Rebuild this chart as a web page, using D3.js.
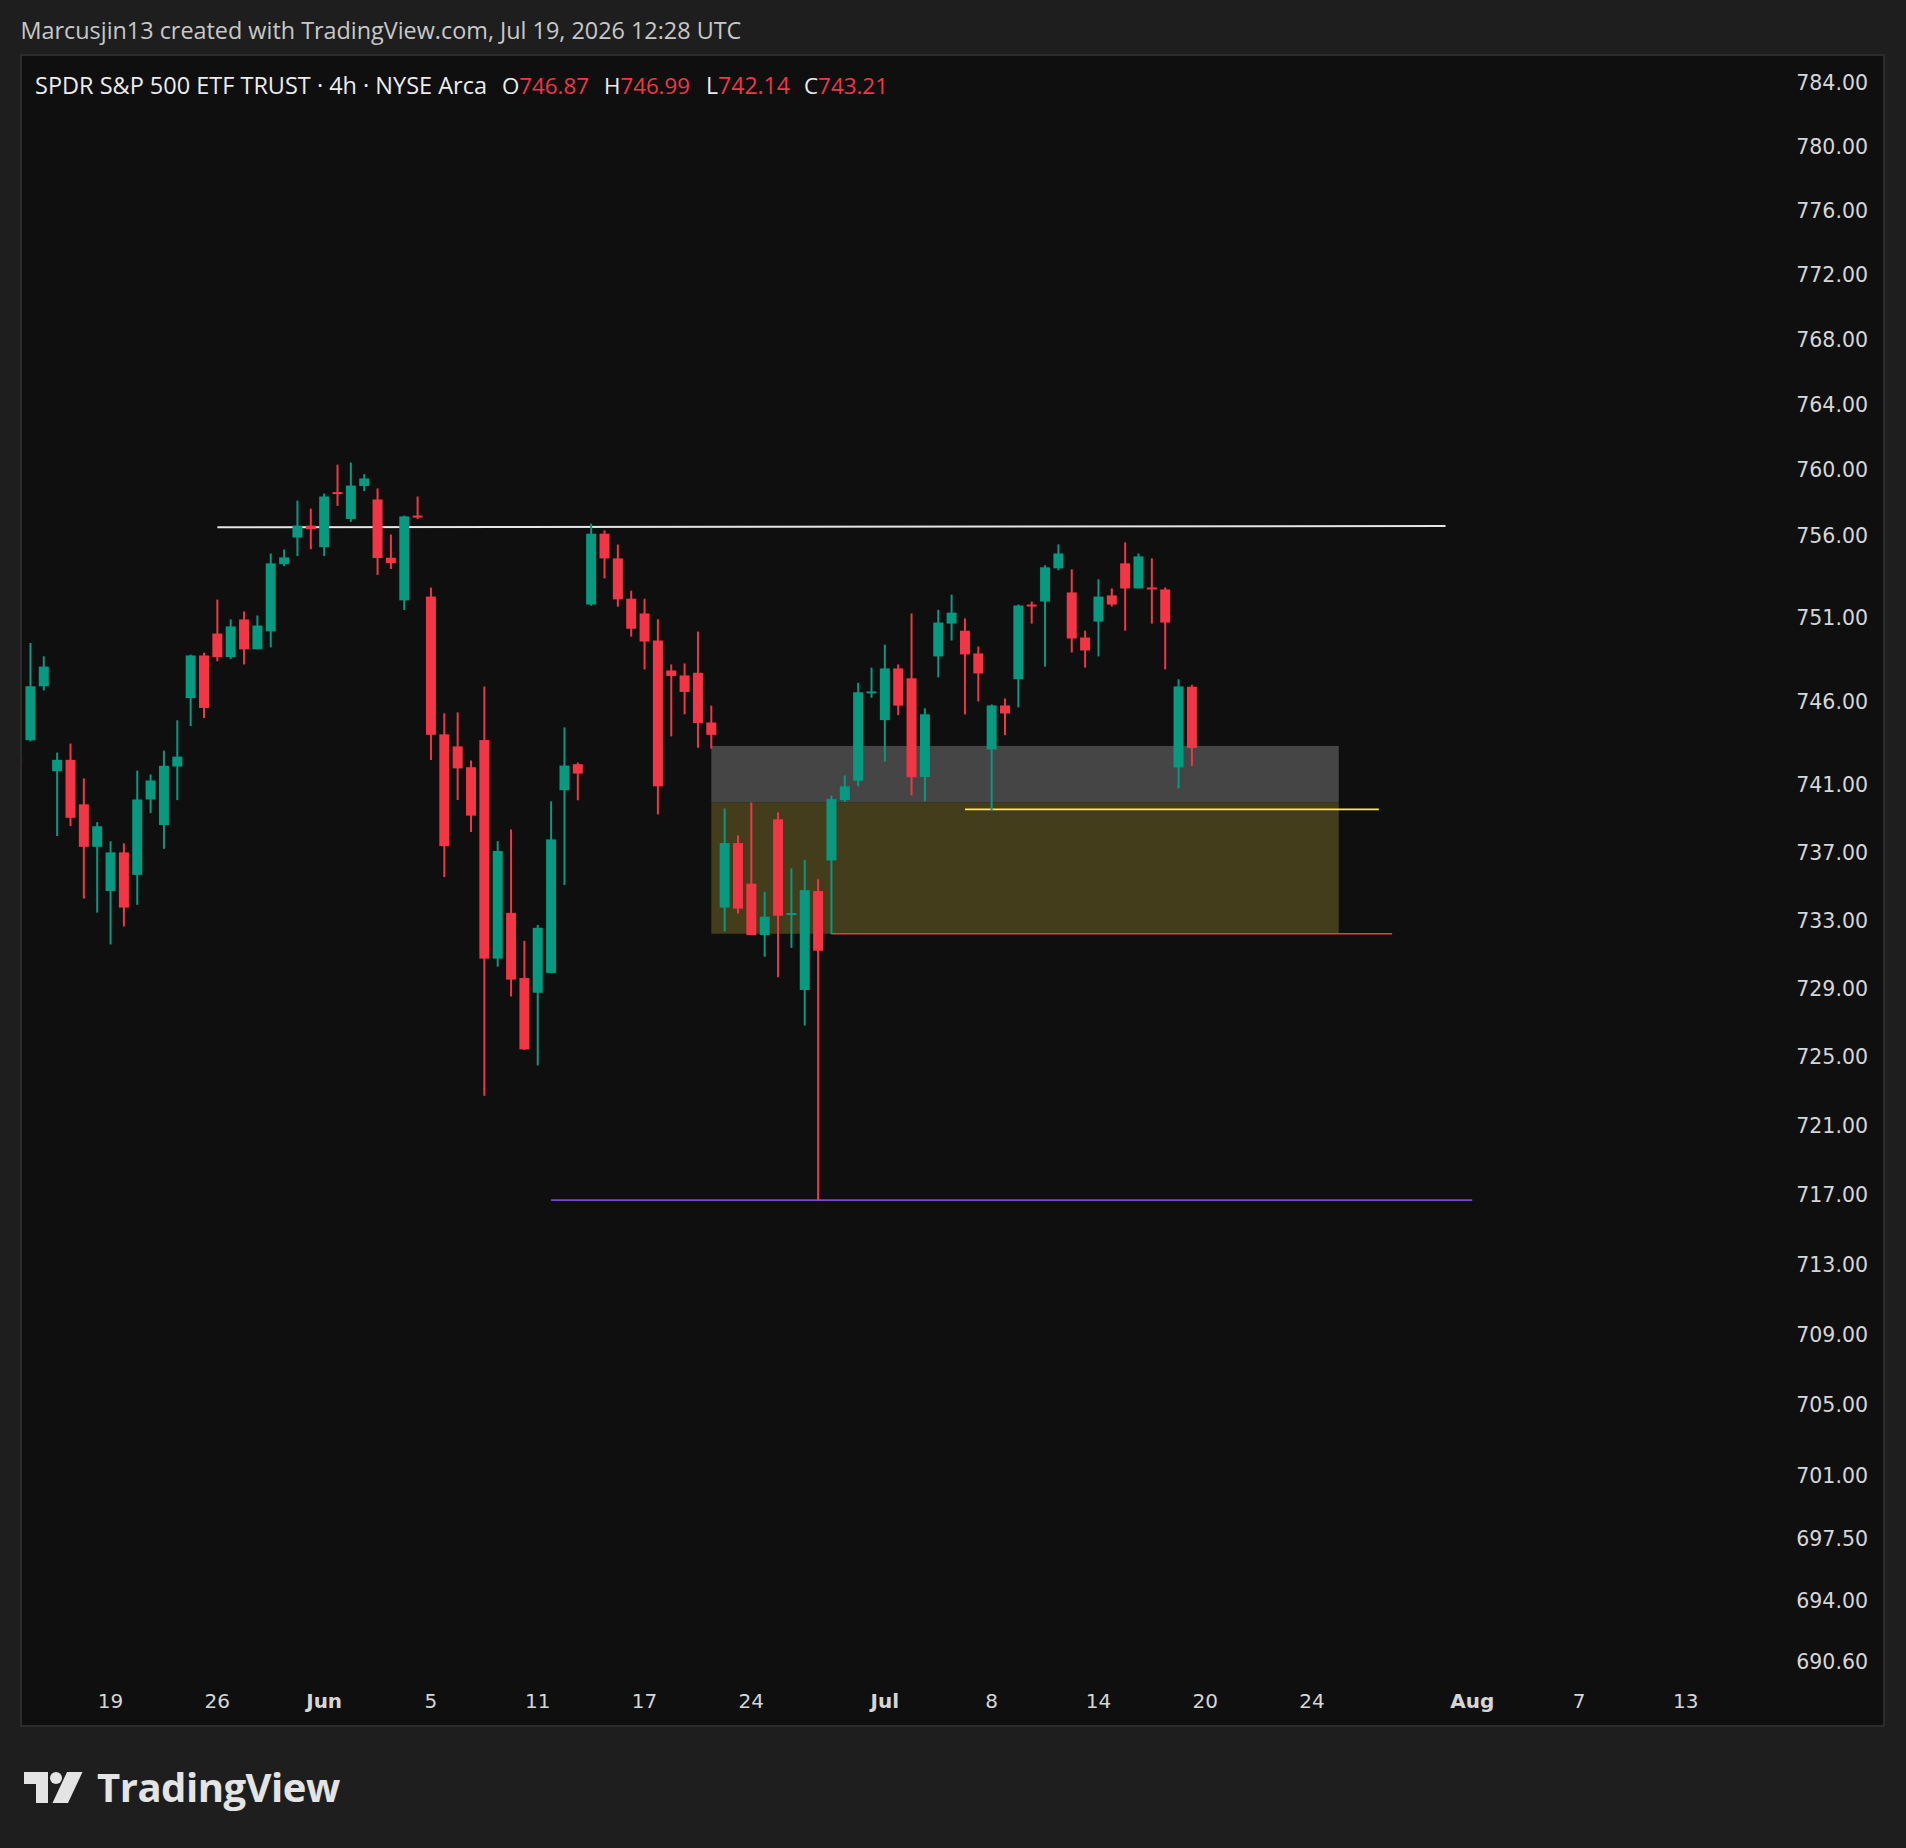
<!DOCTYPE html>
<html>
<head>
<meta charset="utf-8">
<title>SPY 4h</title>
<script src="https://cdnjs.cloudflare.com/ajax/libs/d3/7.8.5/d3.min.js"></script>
<style>
  html, body { margin: 0; padding: 0; background: #1e1e1e; }
  svg { display: block; }
</style>
</head>
<body>
<svg id="chart" width="1906" height="1848" viewBox="0 0 1906 1848"></svg>
<script>
"use strict";

// trading days shown on the time axis (two 4h bars per day, first day only has its 2nd bar)
const tradingDays = [
  '2026-05-13', '2026-05-14', '2026-05-15', '2026-05-18', '2026-05-19', '2026-05-20',
  '2026-05-21', '2026-05-22', '2026-05-26', '2026-05-27', '2026-05-28', '2026-05-29',
  '2026-06-01', '2026-06-02', '2026-06-03', '2026-06-04', '2026-06-05', '2026-06-08',
  '2026-06-09', '2026-06-10', '2026-06-11', '2026-06-12', '2026-06-15', '2026-06-16',
  '2026-06-17', '2026-06-18', '2026-06-22', '2026-06-23', '2026-06-24', '2026-06-25',
  '2026-06-26', '2026-06-29', '2026-06-30', '2026-07-01', '2026-07-02', '2026-07-06',
  '2026-07-07', '2026-07-08', '2026-07-09', '2026-07-10', '2026-07-13', '2026-07-14',
  '2026-07-15', '2026-07-16', '2026-07-17', '2026-07-20', '2026-07-21', '2026-07-22',
  '2026-07-23', '2026-07-24', '2026-07-27', '2026-07-28', '2026-07-29', '2026-07-30',
  '2026-07-31', '2026-08-03', '2026-08-04', '2026-08-05', '2026-08-06', '2026-08-07',
  '2026-08-10', '2026-08-11', '2026-08-12', '2026-08-13', '2026-08-14'
];

const opens = [
  742.58, 743.67, 746.90, 741.82, 742.50, 739.85, 737.33, 734.72, 737.00, 735.67,
  740.14, 738.62, 742.10, 746.19, 748.75, 750.07, 748.65, 750.92, 749.12, 750.20,
  754.26, 755.88, 756.60, 755.29, 758.64, 757.00, 759.01, 758.19, 754.65, 752.07,
  757.21, 752.30, 744.02, 743.30, 742.06, 743.68, 730.74, 733.43, 729.60, 728.74,
  729.90, 740.69, 742.24, 751.82, 756.11, 754.61, 752.17, 751.28, 749.65, 747.85,
  747.55, 747.71, 744.73, 733.74, 737.55, 735.15, 732.12, 738.96, 733.31, 728.90,
  734.72, 736.52, 740.10, 741.25, 746.51, 744.87, 747.97, 747.38, 741.47, 748.69,
  750.67, 750.24, 748.87, 743.12, 745.75, 747.32, 751.82, 752.00, 754.01, 752.55,
  749.83, 750.79, 752.37, 754.31, 752.79, 752.85, 752.73, 742.05, 746.87
];
const highs = [
  742.70, 749.50, 748.70, 742.93, 743.47, 741.39, 738.79, 737.66, 737.54, 741.86,
  741.63, 743.05, 744.86, 748.80, 748.91, 752.12, 750.92, 751.40, 751.16, 754.91,
  755.15, 758.12, 757.63, 758.55, 760.31, 760.44, 759.73, 758.86, 756.06, 757.21,
  758.37, 752.84, 745.28, 745.33, 742.46, 746.89, 737.67, 738.36, 731.78, 732.72,
  740.03, 744.44, 742.34, 756.72, 756.31, 755.45, 752.66, 752.17, 750.93, 748.21,
  748.27, 750.19, 745.74, 739.60, 738.00, 739.96, 734.67, 739.37, 736.06, 736.54,
  735.41, 740.38, 741.57, 747.11, 748.02, 749.40, 748.21, 751.28, 745.58, 751.50,
  752.42, 750.98, 749.29, 745.81, 746.17, 751.82, 752.00, 754.19, 755.46, 753.95,
  750.24, 753.34, 752.79, 755.58, 754.91, 754.61, 752.85, 747.32, 746.99
];
const lows = [
  742.20, 743.60, 746.65, 737.97, 738.56, 734.27, 733.44, 731.57, 732.63, 733.90,
  739.33, 737.21, 740.10, 744.51, 745.00, 748.40, 748.53, 748.21, 749.12, 749.24,
  754.14, 754.75, 755.17, 754.75, 757.80, 756.83, 758.70, 753.61, 753.97, 751.49,
  757.00, 742.49, 735.54, 740.11, 738.21, 722.73, 730.27, 728.52, 725.40, 724.50,
  729.90, 735.07, 740.09, 751.75, 753.40, 751.69, 749.88, 747.91, 739.25, 743.90,
  745.22, 743.22, 743.17, 732.34, 733.39, 732.12, 730.85, 729.65, 731.37, 726.82,
  716.70, 732.17, 739.99, 740.92, 746.21, 742.39, 745.17, 740.38, 740.02, 747.44,
  749.65, 745.21, 745.99, 739.49, 743.96, 745.63, 750.67, 748.08, 753.89, 748.93,
  748.02, 748.69, 751.70, 750.24, 752.79, 750.67, 747.91, 740.80, 742.14
];
const closes = [
  742.30, 746.90, 748.08, 742.50, 739.05, 737.33, 738.55, 737.00, 733.74, 740.14,
  741.27, 742.14, 742.69, 748.75, 745.60, 748.65, 750.50, 749.12, 750.55, 754.31,
  754.67, 756.60, 756.38, 758.37, 758.52, 759.04, 759.47, 754.63, 754.33, 757.16,
  757.10, 743.99, 737.37, 741.99, 739.18, 730.74, 737.08, 729.51, 725.43, 732.55,
  737.77, 742.16, 741.68, 756.11, 754.61, 752.13, 750.36, 749.59, 740.92, 747.52,
  746.56, 744.70, 743.99, 737.55, 733.68, 732.12, 733.20, 733.26, 733.42, 734.77,
  731.20, 740.16, 740.92, 746.54, 746.59, 747.97, 745.74, 741.47, 745.22, 750.73,
  751.33, 748.81, 747.67, 745.75, 745.27, 751.76, 751.70, 754.07, 754.91, 749.77,
  749.05, 752.30, 751.82, 752.79, 754.73, 752.73, 750.73, 746.89, 743.21
];

const priceTicks = [784, 780, 776, 772, 768, 764, 760, 756, 751, 746, 741, 737, 733,
  729, 725, 721, 717, 713, 709, 705, 701, 697.5, 694, 690.6];

const dateTicks = ['2026-05-19', '2026-05-26', '2026-06-01', '2026-06-05', '2026-06-11',
  '2026-06-17', '2026-06-24', '2026-07-01', '2026-07-08', '2026-07-14', '2026-07-20',
  '2026-07-24', '2026-08-03', '2026-08-07', '2026-08-13'];
const dateTickLabels = ['19', '26', 'Jun', '5', '11', '17', '24', 'Jul', '8', '14', '20',
  '24', 'Aug', '7', '13'];

// drawings: [bar index, price] anchors
const resistanceLine = [[15, 756.50], [107, 756.58]];
const grayZone = [[52, 743.33], [99, 739.95]];
const oliveZone = [[52, 739.95], [99, 732.20]];
const redLevel = [[61, 732.20], [103, 732.20]];
const yellowLevel = [[71, 739.55], [102, 739.55]];
const purpleLevel = [[40, 716.70], [109, 716.70]];

const symbolTitle = 'SPDR S&P 500 ETF TRUST · 4h · NYSE Arca';
const creditText = 'Marcusjin13 created with TradingView.com, Jul 19, 2026 12:28 UTC';

(function () {
  let svg = d3.select('#chart');

  const UP = '#089981',
    DOWN = '#f23645',
    AXIS_TEXT = '#d6d6d6',
    FONT = '"Open Sans", Roboto, sans-serif',
    AXIS_FONT = '"DejaVu Sans", Verdana, sans-serif';

  let paneLeft = 21,
    paneTop = 55,
    paneRight = 1884,
    paneBottom = 1726;

  /*
   * scales
   */
  let barSpace = 13.35,
    firstBarX = 17.1;

  let scaleX = d3.scaleLinear()
    .domain([0, 125])
    .range([firstBarX, firstBarX + 125 * barSpace]);

  let scaleY = d3.scaleLog()
    .domain([690.6, 784])
    .range([1662, 82.7]);

  // first bar of a trading day
  function dayBar(date) {
    let d = tradingDays.indexOf(date);
    return 2 * d - 1;
  }

  // shrink/grow a text to the width it has in the screenshot
  function fitWidth(sel, w) {
    let len = sel.node().getComputedTextLength(),
      size = parseFloat(sel.attr('font-size'));
    if (len > 0) sel.attr('font-size', (size * w / len).toFixed(2));
  }

  /*
   * background + pane
   */
  svg.append('rect')
    .attr('width', 1906).attr('height', 1848)
    .attr('fill', '#1e1e1e');

  svg.append('rect')
    .attr('x', paneLeft).attr('y', paneTop)
    .attr('width', paneRight - paneLeft).attr('height', paneBottom - paneTop)
    .attr('fill', '#0f0f0f')
    .attr('stroke', '#2c2c2c')
    .attr('stroke-width', 2);

  svg.append('clipPath').attr('id', 'plotClip')
    .append('rect')
    .attr('x', paneLeft + 1).attr('y', paneTop + 1)
    .attr('width', 1760 - paneLeft).attr('height', 1640 - paneTop);

  let plot = svg.append('g').attr('clip-path', 'url(#plotClip)');

  /*
   * drawings (behind candles)
   */
  function zone(pts, fill) {
    plot.append('rect')
      .attr('x', scaleX(pts[0][0]))
      .attr('y', scaleY(pts[0][1]))
      .attr('width', scaleX(pts[1][0]) - scaleX(pts[0][0]))
      .attr('height', scaleY(pts[1][1]) - scaleY(pts[0][1]))
      .attr('fill', fill);
  }
  zone(grayZone, '#454545');
  zone(oliveZone, '#443d1c');

  function level(pts, color, w) {
    plot.append('line')
      .attr('x1', scaleX(pts[0][0])).attr('y1', scaleY(pts[0][1]))
      .attr('x2', scaleX(pts[1][0])).attr('y2', scaleY(pts[1][1]))
      .attr('stroke', color)
      .attr('stroke-width', w);
  }
  level(resistanceLine, '#e6e6e6', 2);
  level(redLevel, '#f23645', 1.6);
  level(yellowLevel, '#ffeb3b', 1.6);
  level(purpleLevel, '#7e46d8', 1.6);

  /*
   * candles
   */
  let bars = opens.map(function (o, i) {
    return {i: i, o: o, h: highs[i], l: lows[i], c: closes[i]};
  });

  let candle = plot.append('g').attr('class', 'candles')
    .selectAll('g')
    .data(bars)
    .enter()
    .append('g');

  candle.append('line')
    .attr('x1', function (d) { return scaleX(d.i); })
    .attr('x2', function (d) { return scaleX(d.i); })
    .attr('y1', function (d) { return scaleY(d.h); })
    .attr('y2', function (d) { return scaleY(d.l); })
    .attr('stroke', function (d) { return d.c >= d.o ? UP : DOWN; })
    .attr('stroke-width', 2);

  candle.append('rect')
    .attr('x', function (d) { return scaleX(d.i) - 5; })
    .attr('width', 10)
    .attr('y', function (d) { return scaleY(Math.max(d.o, d.c)); })
    .attr('height', function (d) {
      return Math.max(2, Math.abs(scaleY(d.o) - scaleY(d.c)));
    })
    .attr('fill', function (d) { return d.c >= d.o ? UP : DOWN; });

  /*
   * price axis
   */
  svg.append('g').attr('class', 'axis-y')
    .selectAll('text')
    .data(priceTicks)
    .enter()
    .append('text')
    .attr('x', 1868)
    .attr('y', function (d) { return scaleY(d); })
    .attr('dy', '0.36em')
    .attr('text-anchor', 'end')
    .attr('fill', AXIS_TEXT)
    .attr('font-family', AXIS_FONT)
    .attr('font-size', 20.5)
    .text(function (d) { return d.toFixed(2); });

  /*
   * time axis
   */
  svg.append('g').attr('class', 'axis-x')
    .selectAll('text')
    .data(dateTicks)
    .enter()
    .append('text')
    .attr('x', function (d) { return scaleX(dayBar(d)); })
    .attr('y', 1701)
    .attr('dy', '0.36em')
    .attr('text-anchor', 'middle')
    .attr('fill', AXIS_TEXT)
    .attr('font-family', AXIS_FONT)
    .attr('font-size', 20)
    .attr('font-weight', function (d, i) {
      return isNaN(+dateTickLabels[i]) ? 'bold' : 'normal';
    })
    .text(function (d, i) { return dateTickLabels[i]; });

  /*
   * header texts
   */
  let credit = svg.append('text')
    .attr('x', 20.5).attr('y', 31)
    .attr('dy', '0.36em')
    .attr('fill', '#c8c8c8')
    .attr('font-family', FONT)
    .attr('font-size', 21)
    .text(creditText);
  fitWidth(credit, 721);

  let legend = svg.append('g')
    .attr('font-family', FONT);

  let title = legend.append('text')
    .attr('x', 35).attr('y', 85.5).attr('dy', '0.36em')
    .attr('fill', '#ececec')
    .attr('font-size', 21)
    .text(symbolTitle);
  fitWidth(title, 452);

  let last = bars[bars.length - 1];
  let ohlc = [['O', last.o, 502, 87], ['H', last.h, 604, 86], ['L', last.l, 706, 84], ['C', last.c, 804, 84]];
  ohlc.forEach(function (p) {
    let t = legend.append('text')
      .attr('x', p[2]).attr('y', 85.5).attr('dy', '0.36em')
      .attr('font-size', 21)
      .attr('fill', '#ececec');
    t.append('tspan').text(p[0]);
    t.append('tspan').attr('fill', last.c >= last.o ? UP : DOWN).text(p[1].toFixed(2));
    fitWidth(t, p[3]);
  });

  /*
   * footer logo
   */
  let logo = svg.append('g')
    .attr('transform', 'translate(24,1772)')
    .attr('fill', '#e4e4e4');
  logo.append('path').attr('d', 'M0,0 H24 V31 H12 V12 H0 Z');
  logo.append('circle').attr('cx', 32).attr('cy', 6).attr('r', 6);
  logo.append('path').attr('d', 'M43,0 H58.5 L44,31 H28.5 Z');

  let brand = svg.append('text')
    .attr('x', 97).attr('y', 1788)
    .attr('dy', '0.36em')
    .attr('fill', '#e4e4e4')
    .attr('font-family', FONT)
    .attr('font-weight', 'bold')
    .attr('font-size', 41)
    .attr('letter-spacing', -0.5)
    .text('TradingView');
  fitWidth(brand, 243);
}());
</script>
</body>
</html>
